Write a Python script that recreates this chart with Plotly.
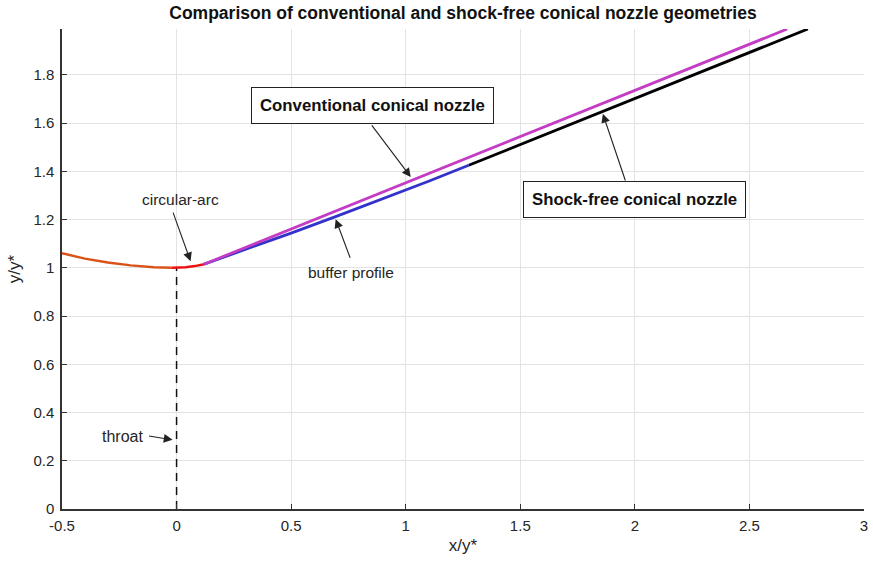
import plotly.graph_objects as go

# ---- data ----
arc_up_x = [-0.5, -0.4, -0.3, -0.2, -0.1, -0.02]
arc_up_y = [1.06, 1.038, 1.022, 1.01, 1.002, 1.0]

arc_dn_x = [-0.02, 0.0, 0.04, 0.08, 0.12]
arc_dn_y = [1.0, 1.0, 1.002, 1.007, 1.015]

conv_x = [0.12, 2.665]
conv_y = [1.015, 1.99]

buffer_x = [0.12, 0.3, 0.5, 0.7, 0.9, 1.1, 1.275]
buffer_y = [1.015, 1.075, 1.144, 1.214, 1.286, 1.359, 1.425]

sf_x = [1.275, 2.755]
sf_y = [1.425, 1.99]

throat_x = [0, 0]
throat_y = [0, 1.0]

x_ticks = [-0.5, 0, 0.5, 1, 1.5, 2, 2.5, 3]
x_ticktext = ["-0.5", "0", "0.5", "1", "1.5", "2", "2.5", "3"]
y_ticks = [0, 0.2, 0.4, 0.6, 0.8, 1.0, 1.2, 1.4, 1.6, 1.8]
y_ticktext = ["0", "0.2", "0.4", "0.6", "0.8", "1", "1.2", "1.4", "1.6", "1.8"]

FONT = "Liberation Sans, Arial, sans-serif"

fig = go.Figure()
fig.add_trace(go.Scatter(x=throat_x, y=throat_y, mode="lines",
                         line=dict(color="#111111", width=1.5, dash="8px,6px"), showlegend=False))
fig.add_trace(go.Scatter(x=arc_up_x, y=arc_up_y, mode="lines",
                         line=dict(color="#D95319", width=2.5), showlegend=False))
fig.add_trace(go.Scatter(x=arc_dn_x, y=arc_dn_y, mode="lines",
                         line=dict(color="#EE1111", width=2.5), showlegend=False))
fig.add_trace(go.Scatter(x=sf_x, y=sf_y, mode="lines",
                         line=dict(color="#000000", width=2.8), showlegend=False))
fig.add_trace(go.Scatter(x=buffer_x, y=buffer_y, mode="lines",
                         line=dict(color="#3333CC", width=2.8), showlegend=False))
fig.add_trace(go.Scatter(x=conv_x, y=conv_y, mode="lines",
                         line=dict(color="#C43CC4", width=2.8), showlegend=False))

def px2x(px):
    return (px - 176) / 229.0

def px2y(py):
    return (509 - py) / 240.5

anns = []
arrows = [
    # (tip_px, tip_py, tail_px, tail_py)
    (190, 262, 172, 212),   # circular-arc
    (410, 178, 370, 125),   # conventional
    (602, 115, 625, 183),   # shock-free
    (335, 220, 350, 260),   # buffer
    (172, 440, 147, 436),   # throat
]
for tx, ty, sx, sy in arrows:
    anns.append(dict(x=px2x(tx), y=px2y(ty), ax=px2x(sx), ay=px2y(sy),
                     xref="x", yref="y", axref="x", ayref="y",
                     showarrow=True, arrowhead=2, arrowsize=1.6, arrowwidth=1.1,
                     arrowcolor="#222222", text=""))

TXT = dict(family=FONT, size=15.5, color="#262626")
anns.append(dict(x=px2x(180), y=px2y(200), xref="x", yref="y", text="circular-arc",
                 showarrow=False, font=TXT))
anns.append(dict(x=px2x(350), y=px2y(273), xref="x", yref="y", text="buffer profile",
                 showarrow=False, font=TXT))
anns.append(dict(x=px2x(144), y=px2y(437), xref="x", yref="y", text="throat",
                 showarrow=False, xanchor="right", font=dict(family=FONT, size=16, color="#262626")))
BOX = dict(family=FONT, size=16.8, color="#111111")
anns.append(dict(x=px2x(372), y=px2y(106.5), xref="x", yref="y",
                 text="<b>Conventional conical nozzle</b>",
                 showarrow=False, bgcolor="white", bordercolor="#222222", borderwidth=1,
                 borderpad=8, font=BOX))
anns.append(dict(x=px2x(634), y=px2y(200), xref="x", yref="y",
                 text="<b>Shock-free conical nozzle</b>",
                 showarrow=False, bgcolor="white", bordercolor="#222222", borderwidth=1,
                 borderpad=8, font=BOX))

fig.update_layout(
    width=873, height=564,
    margin=dict(l=62, r=9, t=29, b=55),
    paper_bgcolor="white", plot_bgcolor="white",
    title=dict(text="<b>Comparison of conventional and shock-free conical nozzle geometries</b>",
               x=0.5303, xanchor="center", y=0.977, yanchor="middle",
               font=dict(family=FONT, size=17.5, color="#111111")),
    annotations=anns,
    showlegend=False,
)
fig.update_xaxes(range=[-0.5, 3], tickvals=x_ticks, ticktext=x_ticktext,
                 automargin=False,
                 showgrid=True, gridcolor="#e3e3e3", gridwidth=1,
                 showline=True, linecolor="#333333", linewidth=1.5,
                 ticks="inside", ticklen=5, tickcolor="#333333",
                 zeroline=False, ticklabelstandoff=2,
                 tickfont=dict(family=FONT, size=15, color="#262626"),
                 title=dict(text="x/y*", font=dict(family=FONT, size=17, color="#262626"),
                            standoff=6))
fig.update_yaxes(range=[0, 1.99], tickvals=y_ticks, ticktext=y_ticktext,
                 automargin=False,
                 showgrid=True, gridcolor="#e3e3e3", gridwidth=1,
                 showline=True, linecolor="#333333", linewidth=1.5,
                 ticks="inside", ticklen=5, tickcolor="#333333",
                 zeroline=False, ticklabelstandoff=3,
                 tickfont=dict(family=FONT, size=15, color="#262626"),
                 title=dict(text="y/y*", font=dict(family=FONT, size=17, color="#262626"),
                            standoff=8))

fig.write_html("out.html")
